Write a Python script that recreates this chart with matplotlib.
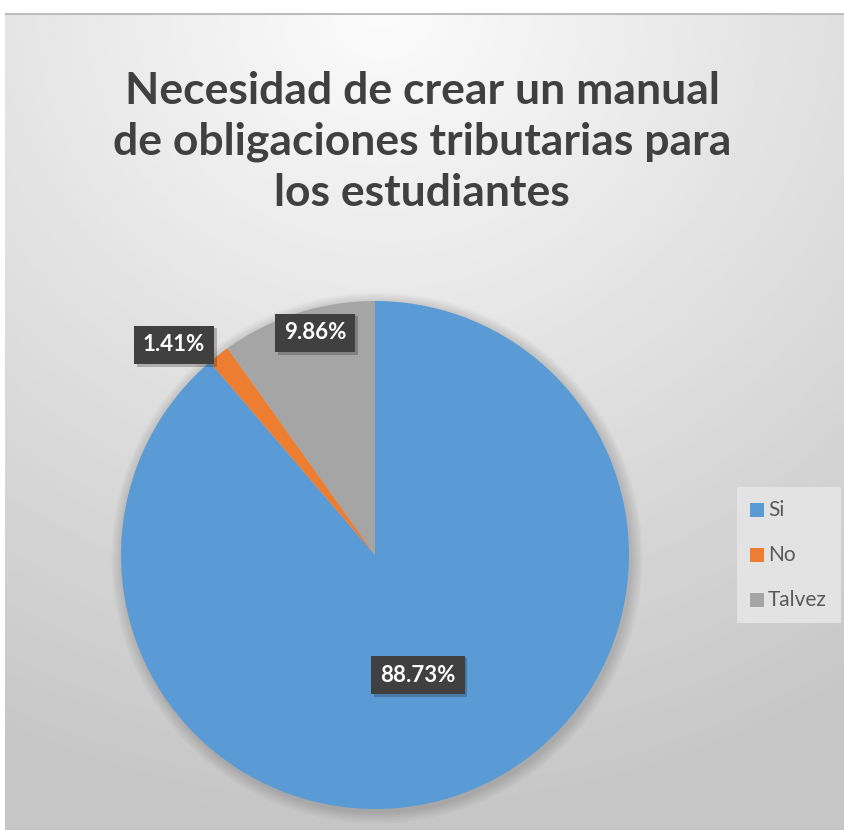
import numpy as np
import matplotlib.pyplot as plt
import matplotlib.patheffects as pe
from matplotlib.patches import Rectangle

categories = ['Si', 'No', 'Talvez']
values = [88.73, 1.41, 9.86]
colors = ['#5B9BD5', '#ED7D31', '#A5A5A5']
title = 'Necesidad de crear un manual\nde obligaciones tributarias para\nlos estudiantes'

W, H = 844, 830
fig = plt.figure(figsize=(W / 100, H / 100), dpi=100)
fig.patch.set_facecolor('white')

# background with radial gradient, like the Excel chart area
bg = fig.add_axes([5 / W, 0, (W - 5) / W, (H - 13) / H])
yy, xx = np.mgrid[0:1:400j, 0:1:400j]
r = np.sqrt((xx - 0.45) ** 2 + (yy * 1.05) ** 2)
grad = np.clip(r / 1.05, 0, 1)
shade = 0.985 - 0.21 * grad
bg.imshow(shade, cmap='gray', vmin=0, vmax=1, extent=[0, 1, 1, 0], aspect='auto')
bg.set_xlim(0, 1)
bg.set_ylim(1, 0)
bg.axis('off')
bg.plot([0, 1], [0.001, 0.001], color='#bdbdbd', lw=1.5)

# main axes in pixel coordinates (y up)
ax = fig.add_axes([0, 0, 1, 1])

cx, cy, rad = 375, H - 555, 254

# soft shadow
for k in range(8):
    ax.add_patch(plt.Circle((cx + 2, cy - 3), rad + 1 + k * 1.5, color='black',
                            alpha=0.018, lw=0, zorder=1))

ax.pie(values, colors=colors, startangle=90, counterclock=False,
       center=(cx, cy), radius=rad, frame=True,
       wedgeprops=dict(linewidth=0, zorder=2))
ax.set_xlim(0, W)
ax.set_ylim(0, H)
ax.set_aspect('equal')
ax.axis('off')

ax.text(422, H - 142, title, ha='center', va='center', fontsize=32,
        fontweight='bold', family='Lato', color='#404040', linespacing=1.33)

# data labels (Excel style dark boxes)
label_pos = [(418, H - 675), (174, H - 345), (315, H - 333)]
for v, (lx, ly) in zip(values, label_pos):
    t = ax.text(lx, ly, f'{v:.2f}%', ha='center', va='center', fontsize=16,
                fontweight='bold', family='Lato', color='white', zorder=5,
                bbox=dict(boxstyle='square,pad=0.4', fc='#404040', ec='none'))
    t.get_bbox_patch().set_path_effects(
        [pe.SimplePatchShadow(offset=(2, -2), alpha=0.25), pe.Normal()])

# legend
ax.add_patch(Rectangle((737, H - 623), 104, 136, fc='#e3e3e3', ec='none', zorder=3))
for i, lab in enumerate(categories):
    y = H - 510 - i * 45
    ax.add_patch(Rectangle((750, y - 7), 14, 14, fc=colors[i], ec='none', zorder=4))
    ax.text(768, y, lab, ha='left', va='center', fontsize=15, family='Lato',
            color='#595959', zorder=4)

fig.savefig('out.png', dpi=100)
